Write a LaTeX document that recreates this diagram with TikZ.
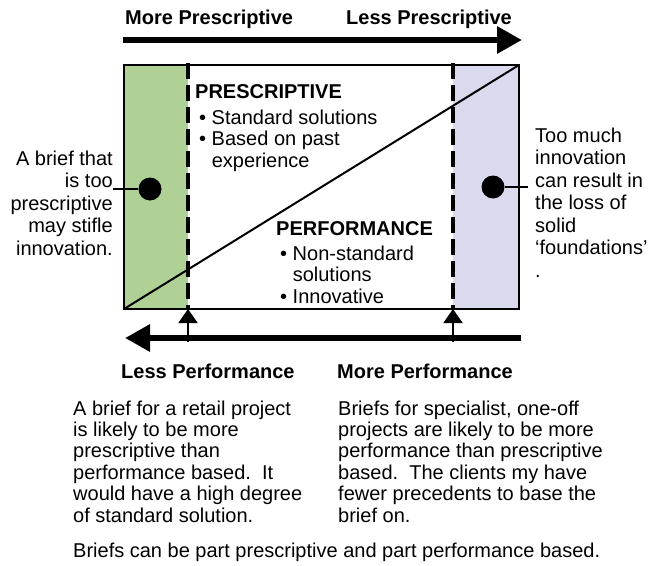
\documentclass[tikz,border=0pt]{standalone}
\usepackage{fontspec}
\setmainfont{Liberation Sans}
\usetikzlibrary{arrows.meta, positioning, calc}
\definecolor{bandgreen}{HTML}{B0D196}
\definecolor{bandlilac}{HTML}{DADAEE}

\begin{document}
\begin{tikzpicture}[
    x=1pt, y=-1pt,
    heading/.style={font=\fontsize{20}{22}\selectfont\bfseries, inner sep=0pt, anchor=base west},
    bullets/.style={font=\fontsize{20}{21.5}\selectfont, inner sep=0pt, align=left, anchor=north west},
    sidenote/.style={font=\fontsize{20}{22.5}\selectfont, inner sep=0pt},
    remark/.style={font=\fontsize{20}{21.4}\selectfont, inner sep=0pt, align=left, anchor=north west},
    scale arrow/.style={-{Triangle[length=25pt, width=26pt]}, line width=6pt},
    marker/.style={-{Triangle[length=14pt, width=19pt]}, line width=2pt},
    divider/.style={line width=3.5pt, dash pattern=on 16pt off 6pt},
    pin/.style={circle, fill=black, minimum size=23pt, inner sep=0pt},
    leader/.style={line width=2.5pt}
]
    \useasboundingbox (0,0) rectangle (648,565);

    % spectrum box
    \coordinate (boxNW) at (124,65);
    \coordinate (boxSE) at (519,309);
    \coordinate (presLimit) at (188,65);
    \coordinate (perfLimit) at (453,65);
    \fill[bandgreen] (boxNW) rectangle (presLimit |- boxSE);
    \fill[bandlilac] (perfLimit) rectangle (boxSE);
    \draw[divider] ($(presLimit)+(0,-2)$) -- (presLimit |- boxSE);
    \draw[divider] ($(perfLimit)+(0,-2)$) -- (perfLimit |- boxSE);
    \draw[line width=2pt] (boxNW |- boxSE) -- (boxSE |- boxNW);
    \draw[line width=2pt] (boxNW) rectangle (boxSE);

    % scales
    \node[heading] (morePres) at (125,24) {More Prescriptive};
    \node[heading] (lessPres) at (346,24) {Less Prescriptive};
    \coordinate (presStart) at (123,40);
    \coordinate (presEnd) at (522,40);
    \draw[scale arrow] (presStart) -- (presEnd);

    \coordinate (perfStart) at (521,338);
    \coordinate (perfEnd) at (125,338);
    \draw[scale arrow] (perfStart) -- (perfEnd);
    \draw[marker] (presLimit |- 0,342) -- (presLimit |- boxSE);
    \draw[marker] (perfLimit |- 0,342) -- (perfLimit |- boxSE);
    \node[heading] (lessPerf) at (121,378) {Less Performance};
    \node[heading] (morePerf) at (337,378) {More Performance};

    % box contents
    \node[heading] (presTitle) at (195,98) {PRESCRIPTIVE};
    \node[bullets] (presList) at (199,109.5)
      {• Standard solutions\\• Based on past\\\hphantom{• }experience};
    \node[heading] (perfTitle) at (276,235) {PERFORMANCE};
    \node[bullets] (perfList) at (280,245.5)
      {• Non-standard\\\hphantom{• }solutions\\• Innovative};

    % side notes
    \node[pin] (pinLeft) at (150,189) {};
    \node[sidenote, align=right, anchor=north east] (noteLeft) at (113,150.5)
      {A brief that\\is too\\prescriptive\\may stifle\\innovation.};
    \draw[leader] (pinLeft) -- (pinLeft -| noteLeft.east);

    \node[pin] (pinRight) at (493,187) {};
    \node[sidenote, align=left, anchor=north west] (noteRight) at (535,127.5)
      {Too much\\innovation\\can result in\\the loss of\\solid\\‘foundations’\\.};
    \coordinate (leaderEnd) at ($(pinRight -| noteRight.west)+(-7,0)$);
    \draw[leader] (pinRight) -- (leaderEnd);

    % remarks
    \node[remark] (retail) at (73,400.5)
      {A brief for a retail project\\is likely to be more\\prescriptive than\\performance based.\ \ It\\would have a high degree\\of standard solution.};
    \node[remark] (specialist) at (338,400.5)
      {Briefs for specialist, one-off\\projects are likely to be more\\performance than prescriptive\\based.\ \ The clients my have\\fewer precedents to base the\\brief on.};
    \node[remark, anchor=base west] (summary) at (73,557)
      {Briefs can be part prescriptive and part performance based.};
\end{tikzpicture}
\end{document}
